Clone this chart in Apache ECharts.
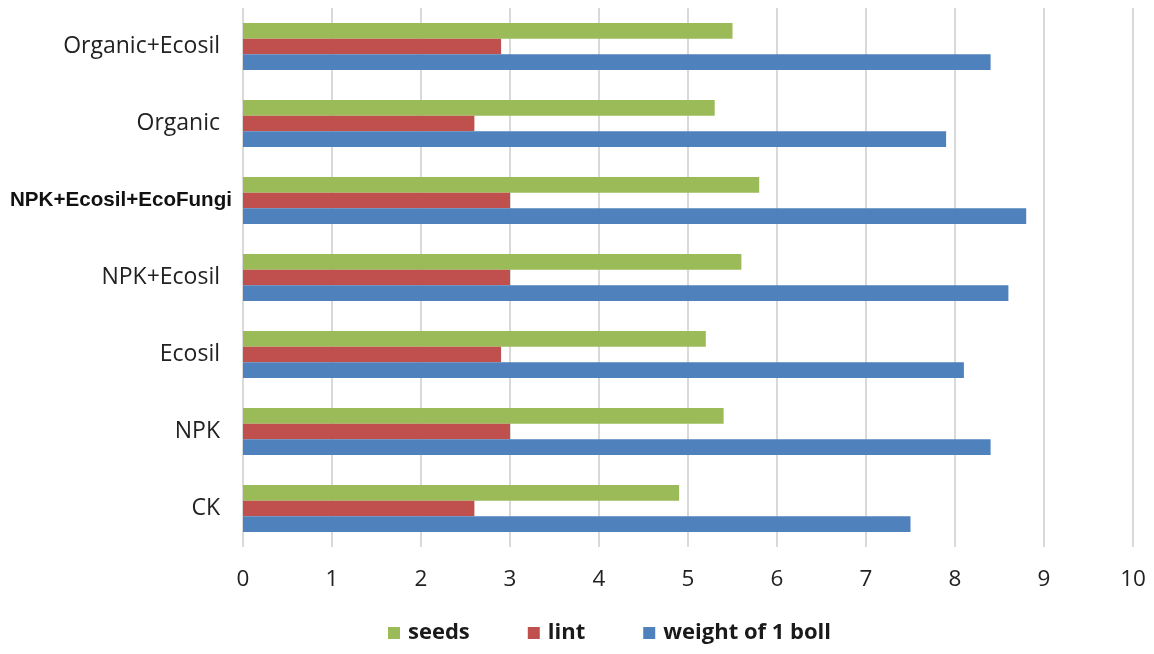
<!DOCTYPE html>
<html><head><meta charset="utf-8">
<script src="https://cdn.jsdelivr.net/npm/echarts@6/dist/echarts.min.js"></script>
<style>html,body{margin:0;padding:0;background:#fff}#c{width:1154px;height:654px}</style>
</head><body><div id="c"></div>
<script>
const categories = ['CK','NPK','Ecosil','NPK+Ecosil','NPK+Ecosil+EcoFungi','Organic','Organic+Ecosil'];
const seeds = [4.9, 5.4, 5.2, 5.6, 5.8, 5.3, 5.5];
const lint = [2.6, 3.0, 2.9, 3.0, 3.0, 2.6, 2.9];
const weightBoll = [7.5, 8.4, 8.1, 8.6, 8.8, 7.9, 8.4];
const xTicks = [0,1,2,3,4,5,6,7,8,9,10];

const chart = echarts.init(document.getElementById('c'), null, {renderer:'canvas'});
const font = '"Open Sans", sans-serif';
chart.setOption({
  animation:false,
  grid:{left:243, right:21, top:8, bottom:107, containLabel:false},
  legend:{
    data:['seeds','lint','weight of 1 boll'],
    top:617, left:383,
    itemWidth:12, itemHeight:12, itemGap:58,
    icon:'rect',
    textStyle:{fontFamily:font, fontWeight:'bold', fontSize:22, color:'#1a1a1a', padding:[0,0,0,3]}
  },
  xAxis:{
    type:'value', min:xTicks[0], max:xTicks[xTicks.length-1], interval:1,
    axisLine:{show:false}, axisTick:{show:false},
    splitLine:{show:true, lineStyle:{color:'#d9d9d9', width:2}},
    axisLabel:{fontFamily:font, fontSize:22.5, color:'#222', margin:21}
  },
  yAxis:{
    type:'category', data:categories,
    axisLine:{show:false}, axisTick:{show:false},
    axisLabel:{
      margin:11,
      formatter: v => v === 'NPK+Ecosil+EcoFungi' ? '{b|'+v+'}' : '{n|'+v+'}',
      rich:{
        n:{fontFamily:font, fontSize:23, color:'#222', padding:[0,12,0,0]},
        b:{fontFamily:'"Liberation Sans", Arial, sans-serif', fontWeight:'bold', fontSize:20.6, color:'#111'}
      }
    }
  },
  series:[
    {name:'seeds', type:'bar', data:seeds, itemStyle:{color:'#9BBB59'}, barGap:'0%', barCategoryGap:'39%'},
    {name:'lint', type:'bar', data:lint, itemStyle:{color:'#C0504D'}, barGap:'0%', barCategoryGap:'39%'},
    {name:'weight of 1 boll', type:'bar', data:weightBoll, itemStyle:{color:'#4F81BD'}, barGap:'0%', barCategoryGap:'39%'}
  ]
});
</script></body></html>
